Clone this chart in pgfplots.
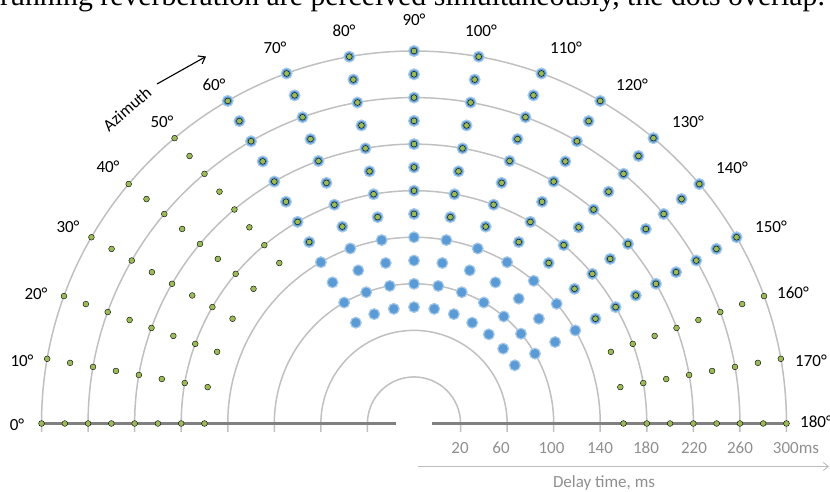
\documentclass[border=0pt]{standalone}
\usepackage{fontspec}
\setmainfont{Carlito}
\newfontfamily\serif{Liberation Serif}
\usepackage{pgfplots}
\usepackage{pgfplotstable}
\pgfplotsset{compat=1.18}
\usetikzlibrary{arrows.meta}

\definecolor{dotgreen}{HTML}{9BBB59}
\definecolor{dotblue}{HTML}{5B9BD5}
\definecolor{dotrim}{HTML}{A7C9E9}
\definecolor{ring}{HTML}{C0C0C0}
\definecolor{base}{HTML}{808080}
\definecolor{delaygray}{HTML}{8F8F8F}

% azimuth in degrees (0 = left), delay in ms
\pgfplotstableread[row sep=\\]{
angle delay\\
0 160\\ 0 180\\ 0 200\\ 0 220\\ 0 240\\ 0 260\\ 0 280\\ 0 300\\
10 160\\ 10 180\\ 10 200\\ 10 220\\ 10 240\\ 10 260\\ 10 280\\ 10 300\\
20 160\\ 20 180\\ 20 200\\ 20 220\\ 20 240\\ 20 260\\ 20 280\\ 20 300\\
30 160\\ 30 180\\ 30 200\\ 30 220\\ 30 240\\ 30 260\\ 30 280\\ 30 300\\
40 160\\ 40 180\\ 40 200\\ 40 220\\ 40 240\\ 40 260\\ 40 280\\ 40 300\\
50 160\\ 50 180\\ 50 200\\ 50 220\\ 50 240\\ 50 260\\ 50 280\\ 50 300\\
60 160\\ 60 180\\ 60 200\\ 60 220\\ 60 240\\ 60 260\\ 60 280\\ 60 300\\
70 160\\ 70 180\\ 70 200\\ 70 220\\ 70 240\\ 70 260\\ 70 280\\ 70 300\\
80 160\\ 80 180\\ 80 200\\ 80 220\\ 80 240\\ 80 260\\ 80 280\\ 80 300\\
90 160\\ 90 180\\ 90 200\\ 90 220\\ 90 240\\ 90 260\\ 90 280\\ 90 300\\
100 160\\ 100 180\\ 100 200\\ 100 220\\ 100 240\\ 100 260\\ 100 280\\ 100 300\\
110 160\\ 110 180\\ 110 200\\ 110 220\\ 110 240\\ 110 260\\ 110 280\\ 110 300\\
120 160\\ 120 180\\ 120 200\\ 120 220\\ 120 240\\ 120 260\\ 120 280\\ 120 300\\
130 160\\ 130 180\\ 130 200\\ 130 220\\ 130 240\\ 130 260\\ 130 280\\ 130 300\\
140 160\\ 140 180\\ 140 200\\ 140 220\\ 140 240\\ 140 260\\ 140 280\\ 140 300\\
150 160\\ 150 180\\ 150 200\\ 150 220\\ 150 240\\ 150 260\\ 150 280\\ 150 300\\
160 160\\ 160 180\\ 160 200\\ 160 220\\ 160 240\\ 160 260\\ 160 280\\ 160 300\\
170 160\\ 170 180\\ 170 200\\ 170 220\\ 170 240\\ 170 260\\ 170 280\\ 170 300\\
180 160\\ 180 180\\ 180 200\\ 180 220\\ 180 240\\ 180 260\\ 180 280\\ 180 300\\
}\greendots

\pgfplotstableread[row sep=\\]{
angle delay\\
60 80\\ 60 100\\ 60 120\\ 60 140\\ 60 160\\ 60 180\\ 60 200\\ 60 220\\ 60 240\\ 60 260\\ 60 280\\ 60 300\\
70 80\\ 70 100\\ 70 120\\ 70 140\\ 70 160\\ 70 180\\ 70 200\\ 70 220\\ 70 240\\ 70 260\\ 70 280\\ 70 300\\
80 80\\ 80 100\\ 80 120\\ 80 140\\ 80 160\\ 80 180\\ 80 200\\ 80 220\\ 80 240\\ 80 260\\ 80 280\\ 80 300\\
90 80\\ 90 100\\ 90 120\\ 90 140\\ 90 160\\ 90 180\\ 90 200\\ 90 220\\ 90 240\\ 90 260\\ 90 280\\ 90 300\\
100 80\\ 100 100\\ 100 120\\ 100 140\\ 100 160\\ 100 180\\ 100 200\\ 100 220\\ 100 240\\ 100 260\\ 100 280\\ 100 300\\
110 80\\ 110 100\\ 110 120\\ 110 140\\ 110 160\\ 110 180\\ 110 200\\ 110 220\\ 110 240\\ 110 260\\ 110 280\\ 110 300\\
120 80\\ 120 100\\ 120 120\\ 120 140\\ 120 160\\ 120 180\\ 120 200\\ 120 220\\ 120 240\\ 120 260\\ 120 280\\ 120 300\\
130 80\\ 130 100\\ 130 120\\ 130 140\\ 130 160\\ 130 180\\ 130 200\\ 130 220\\ 130 240\\ 130 260\\ 130 280\\ 130 300\\
140 80\\ 140 100\\ 140 120\\ 140 140\\ 140 160\\ 140 180\\ 140 200\\ 140 220\\ 140 240\\ 140 260\\ 140 280\\ 140 300\\
150 80\\ 150 100\\ 150 120\\ 150 140\\ 150 160\\ 150 180\\ 150 200\\ 150 220\\ 150 240\\ 150 260\\ 150 280\\ 150 300\\
}\bluedots

\begin{document}
\begin{tikzpicture}
\useasboundingbox (0,0) rectangle (830pt,492pt);
\clip (0,0) rectangle (830pt,492pt);

% delay rings (20 ... 300 ms) and the base line
\begin{scope}[shift={(414pt,68.5pt)}]
  \foreach \k in {1,...,8}{
    \pgfmathsetmacro\R{46.56*\k}
    \draw[ring, line width=1.5pt] (\R pt,-8.5pt) -- (\R pt,0pt)
      arc[start angle=0, end angle=180, radius=\R pt] -- (-\R pt,-8.5pt);
  }
  \draw[base, line width=2.2pt] (-372.5pt,0pt) -- (-18pt,0pt);
  \draw[base, line width=2.2pt] (18pt,0pt) -- (373pt,0pt);
\end{scope}

\begin{axis}[
    at={(0pt,0pt)}, anchor=south west,
    scale only axis, width=830pt, height=492pt,
    xmin=-414, xmax=416, ymin=-68.5, ymax=423.5,
    hide axis, clip=false,
]
  \addplot[only marks, mark=*, mark size=5.4pt,
    mark options={fill=dotblue, draw=dotrim, line width=1.2pt},
    data cs=polar]
    table[x expr={180-\thisrow{angle}}, y expr={1.164*(\thisrow{delay}+20)}] {\bluedots};
  \addplot[only marks, mark=*, mark size=2.9pt,
    mark options={fill=dotgreen, draw=none},
    data cs=polar]
    table[x expr={180-\thisrow{angle}}, y expr={1.164*(\thisrow{delay}+20)}] {\greendots};
\end{axis}

% labels, placed in pixel coordinates of the reference (y downwards)
\begin{scope}[shift={(0pt,492pt)}, x=1pt, y=-1pt,
    every node/.style={font=\fontsize{17}{20}\selectfont, inner sep=0pt}]
  \node[anchor=base west, font=\serif\fontsize{29.8}{32}\selectfont]
    at (0,5.5) {running reverberation are perceived simultaneously, the dots overlap.};

  \node at (17,425) {0°};
  \node at (22,361) {10°};
  \node at (36,294) {20°};
  \node at (68,227) {30°};
  \node at (108,167) {40°};
  \node at (162,122) {50°};
  \node at (214,85) {60°};
  \node at (275,48) {70°};
  \node at (344,31) {80°};
  \node at (414,20) {90°};
  \node at (481,31) {100°};
  \node at (566,48) {110°};
  \node at (632,85) {120°};
  \node at (688,122) {130°};
  \node at (732,168) {140°};
  \node at (771,227) {150°};
  \node at (793,293) {160°};
  \node at (811,361) {170°};
  \node[anchor=west] at (800,422) {180°};

  \node[rotate=41] at (127,109) {Azimuth};
  \draw[line width=1.1pt, -{Straight Barb[length=6pt,width=9pt]}] (157,84) -- (206,56.5);

  \begin{scope}[every node/.append style={text=delaygray}]
    \node at (460,448) {20};
    \node at (501,448) {60};
    \node at (551.5,448) {100};
    \node at (600,448) {140};
    \node at (646,448) {180};
    \node at (694,448) {220};
    \node at (740,448) {260};
    \node[anchor=west] at (772.7,448) {300ms};
    \node at (604,483) {Delay time, ms};
  \end{scope}
  \draw[delaygray!60, line width=0.9pt, -{Straight Barb[length=5pt,width=8pt]}] (418,466.5) -- (829,466.5);
\end{scope}
\end{tikzpicture}
\end{document}
